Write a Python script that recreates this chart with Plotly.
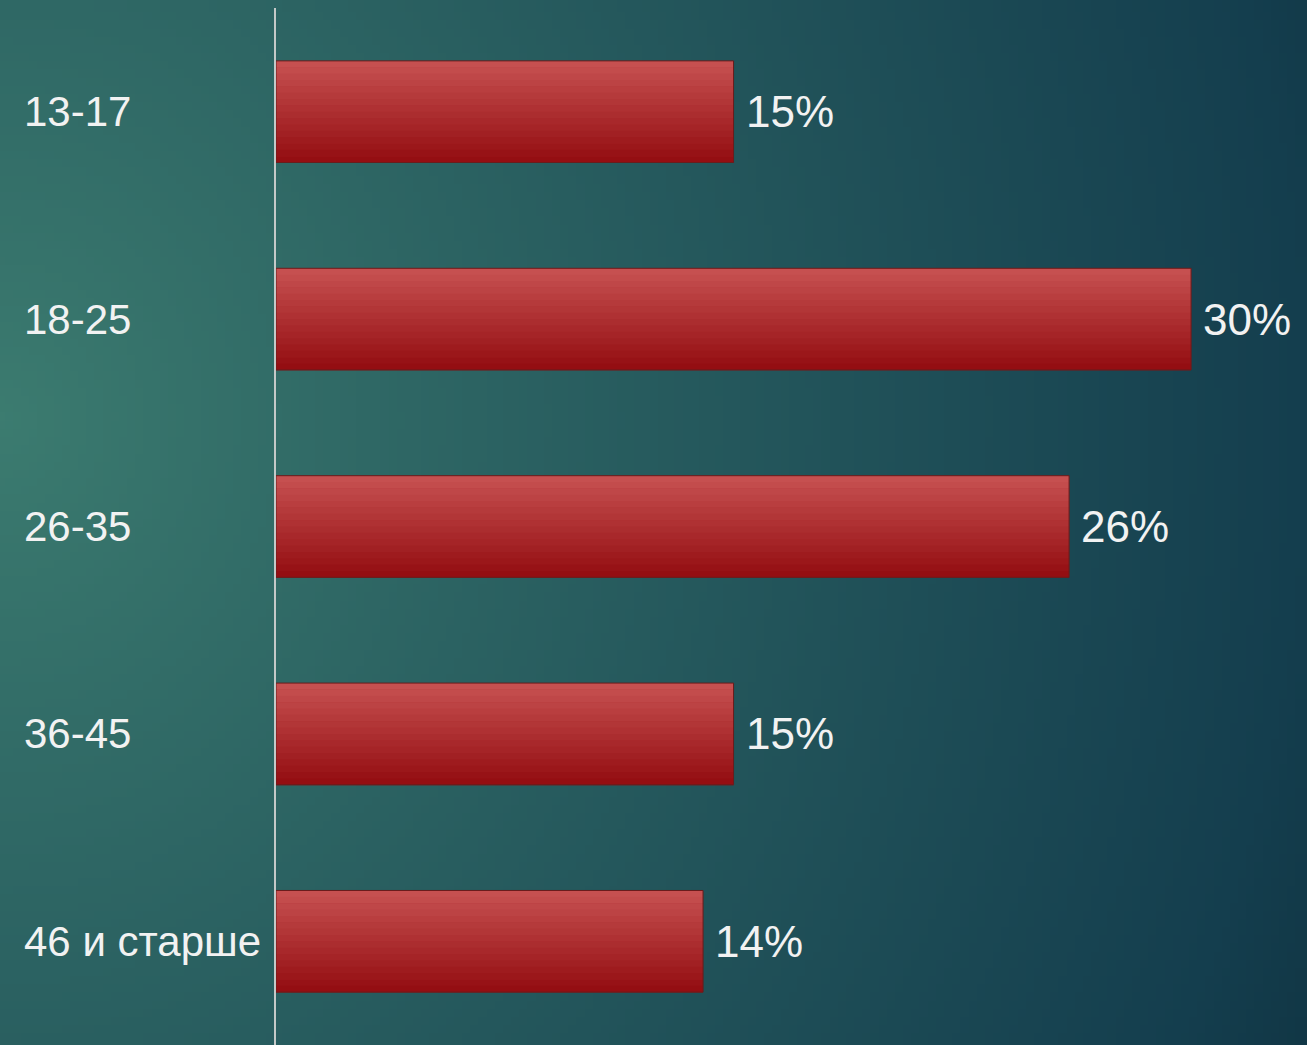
import plotly.graph_objects as go
import zlib, struct, base64

# ---- data ----
categories = ["13-17", "18-25", "26-35", "36-45", "46 и старше"]
values = [15, 30, 26, 15, 14]
value_labels = ["15%", "30%", "26%", "15%", "14%"]

W, H = 1307, 1045

# ---- background gradient as a small PNG ----
def make_png(w, h, func):
    rows = []
    for j in range(h):
        row = bytearray([0])
        for i in range(w):
            row.extend(func(i / (w - 1), j / (h - 1)))
        rows.append(bytes(row))
    raw = b"".join(rows)

    def chunk(tag, data):
        c = struct.pack(">I", len(data)) + tag + data
        return c + struct.pack(">I", zlib.crc32(tag + data) & 0xFFFFFFFF)

    ihdr = struct.pack(">IIBBBBB", w, h, 8, 2, 0, 0, 0)
    png = b"\x89PNG\r\n\x1a\n" + chunk(b"IHDR", ihdr) + chunk(b"IDAT", zlib.compress(raw, 9)) + chunk(b"IEND", b"")
    return "data:image/png;base64," + base64.b64encode(png).decode()

C0 = (60, 124, 112)
C1 = (20, 62, 78)
C2 = (15, 50, 64)

def bg(u, v):
    t = ((u * 1.0) ** 2 + ((v - 0.4) ** 2) * 0.5) ** 0.5
    if t <= 1.0:
        t = t ** 0.9
        a, b, f = C0, C1, t
    else:
        a, b, f = C1, C2, min(1.0, (t - 1.0) / 0.15)
    return bytes(int(round(a[k] + (b[k] - a[k]) * f)) for k in range(3))

bg_src = make_png(160, 128, bg)

fig = go.Figure()

BAR_W = 0.49
N = 16
top = (198, 80, 80)
bot = (148, 14, 18)

# base bar
fig.add_trace(go.Bar(
    x=values, y=categories, orientation="h", width=BAR_W,
    marker=dict(color="#ac2a2c", line=dict(width=0)),
    hoverinfo="skip", showlegend=False,
))
# gradient strips
for k in range(N):
    f = k / (N - 1)
    col = "rgb(%d,%d,%d)" % tuple(int(round(top[c] + (bot[c] - top[c]) * f)) for c in range(3))
    fig.add_trace(go.Bar(
        x=values, y=categories, orientation="h",
        width=BAR_W / N + 0.002, offset=-BAR_W / 2 + k * BAR_W / N,
        marker=dict(color=col, line=dict(width=0)),
        hoverinfo="skip", showlegend=False,
    ))
# outline
fig.add_trace(go.Bar(
    x=values, y=categories, orientation="h", width=BAR_W,
    marker=dict(color="rgba(0,0,0,0)", line=dict(color="#6a1c1c", width=1)),
    hoverinfo="skip", showlegend=False,
))

annotations = []
for cat in categories:
    annotations.append(dict(
        x=22 / W, xref="paper", y=cat, yref="y", text=cat, showarrow=False,
        xanchor="left", yanchor="middle",
        font=dict(family="Arial, Liberation Sans, sans-serif", size=42, color="#f2f2f2"),
    ))
for cat, v, lab in zip(categories, values, value_labels):
    annotations.append(dict(
        x=v, xref="x", y=cat, yref="y", text=lab, showarrow=False,
        xanchor="left", yanchor="middle", xshift=10,
        font=dict(family="Arial, Liberation Sans, sans-serif", size=44, color="#f2f2f2"),
    ))

fig.update_layout(
    width=W, height=H,
    margin=dict(l=0, r=0, t=0, b=0, pad=0),
    paper_bgcolor="#245a5a",
    plot_bgcolor="rgba(0,0,0,0)",
    barmode="overlay",
    bargap=0.51,
    showlegend=False,
    annotations=annotations,
    images=[dict(
        source=bg_src, xref="paper", yref="paper", x=0, y=1, sizex=1, sizey=1,
        xanchor="left", yanchor="top", sizing="stretch", layer="below",
    )],
    xaxis=dict(
        domain=[276 / W, 1], range=[0, 33.8], showgrid=False, zeroline=False,
        showticklabels=False, ticks="", fixedrange=True,
    ),
    yaxis=dict(
        domain=[0, 1 - 8 / H], categoryorder="array", categoryarray=categories,
        autorange="reversed", showgrid=False, zeroline=False, showticklabels=False,
        ticks="", showline=True, linecolor="#c4c9c8", linewidth=1.5, fixedrange=True,
    ),
)

fig.write_html(
    "out.html",
    config={"displayModeBar": False},
    post_script="document.body.style.margin='0px';document.body.style.overflow='hidden';",
)
